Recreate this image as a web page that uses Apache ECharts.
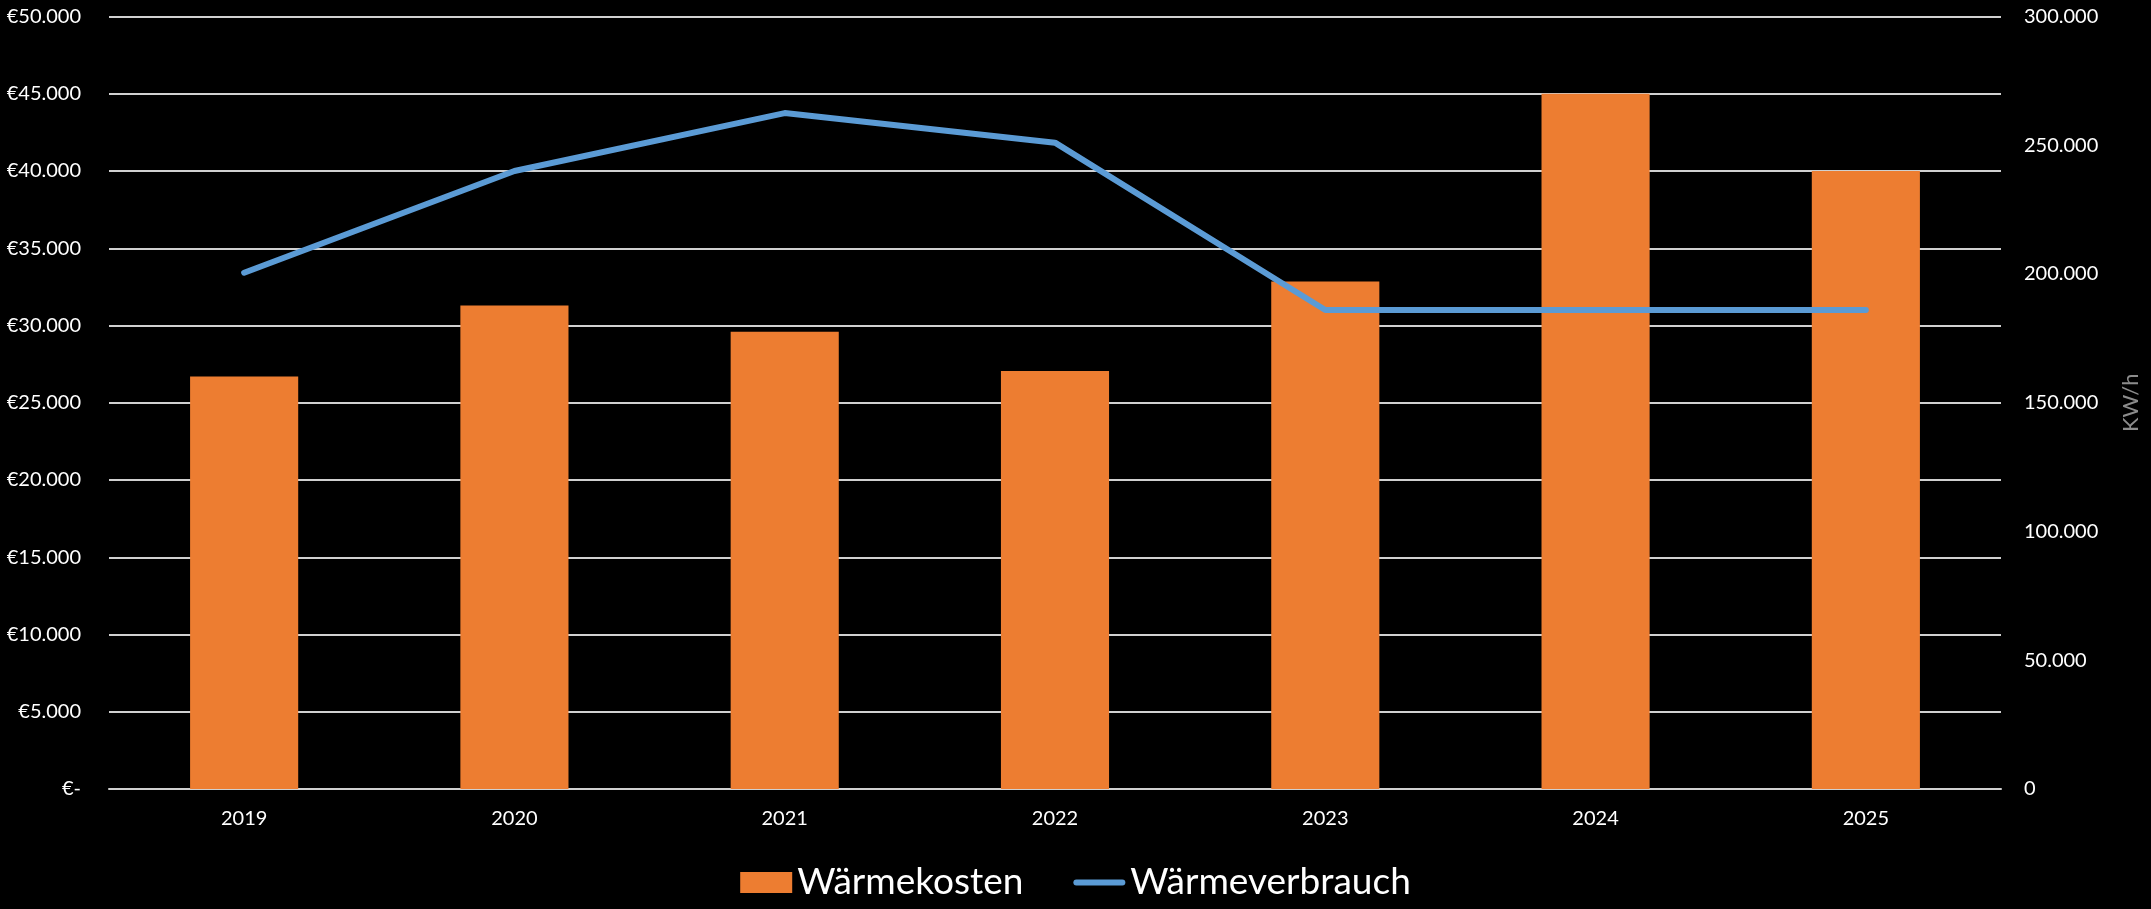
<!DOCTYPE html>
<html>
<head>
<meta charset="utf-8">
<script src="https://cdn.jsdelivr.net/npm/echarts@6/dist/echarts.min.js"></script>
<style>
html,body{margin:0;padding:0;background:#000;overflow:hidden;}
#chart{width:2151px;height:909px;}
</style>
</head>
<body>
<div id="chart"></div>
<script>
const categories = ['2019','2020','2021','2022','2023','2024','2025'];
const waermekosten = [26700, 31300, 29600, 27050, 32850, 45000, 40000];
const waermeverbrauch = [200500, 240000, 262500, 251000, 186000, 186000, 186000];

function dots(v){
  return String(Math.round(v)).replace(/\B(?=(\d{3})+(?!\d))/g, '.');
}

const FONT = 'Lato';
const chart = echarts.init(document.getElementById('chart'));
chart.setOption({
  backgroundColor: '#000000',
  animation: false,
  textStyle: { fontFamily: FONT },
  grid: { left: 109, right: 150, top: 16.5, bottom: 120, containLabel: false, outerBoundsMode: 'none' },
  legend: {
    bottom: 3,
    left: 'center',
    itemWidth: 52,
    itemHeight: 21,
    itemGap: 50,
    textStyle: { color: '#ffffff', fontSize: 37, fontFamily: FONT },
    data: [
      { name: 'Wärmekosten', icon: 'rect' },
      { name: 'Wärmeverbrauch', icon: 'path://M0,0M52,21M3,7.5L49,7.5A3,3 0 0 1 49,13.5L3,13.5A3,3 0 0 1 3,7.5Z' }
    ]
  },
  xAxis: {
    type: 'category',
    data: categories,
    axisTick: { show: false },
    axisLine: { show: true, lineStyle: { color: '#d0d0d0', width: 2 } },
    axisLabel: { color: '#ffffff', fontSize: 20, margin: 20, fontFamily: FONT }
  },
  yAxis: [
    {
      type: 'value',
      min: 0, max: 50000, interval: 5000,
      axisLine: { show: false },
      axisTick: { show: false },
      splitLine: { show: true, lineStyle: { color: '#d0d0d0', width: 2 } },
      axisLabel: {
        color: '#ffffff', fontSize: 20, margin: 28, fontFamily: FONT,
        formatter: v => v === 0 ? '€-' : '€' + dots(v)
      }
    },
    {
      type: 'value',
      min: 0, max: 300000, interval: 50000,
      position: 'right',
      name: 'KW/h',
      nameLocation: 'middle',
      nameRotate: 90,
      nameGap: 119,
      nameTextStyle: { color: '#8c8c8c', fontSize: 22, fontFamily: FONT },
      axisLine: { show: false },
      axisTick: { show: false },
      splitLine: { show: false },
      axisLabel: {
        color: '#ffffff', fontSize: 20, margin: 23, fontFamily: FONT,
        formatter: v => v === 0 ? '0' : dots(v)
      }
    }
  ],
  series: [
    {
      name: 'Wärmekosten',
      type: 'bar',
      data: waermekosten,
      yAxisIndex: 0,
      barWidth: '40%',
      itemStyle: { color: '#ED7D31' }
    },
    {
      name: 'Wärmeverbrauch',
      type: 'line',
      data: waermeverbrauch,
      yAxisIndex: 1,
      showSymbol: false,
      symbol: 'none',
      lineStyle: { color: '#5B9BD5', width: 6, cap: 'round', join: 'round' },
      itemStyle: { color: '#5B9BD5' }
    }
  ]
});
</script>
</body>
</html>
